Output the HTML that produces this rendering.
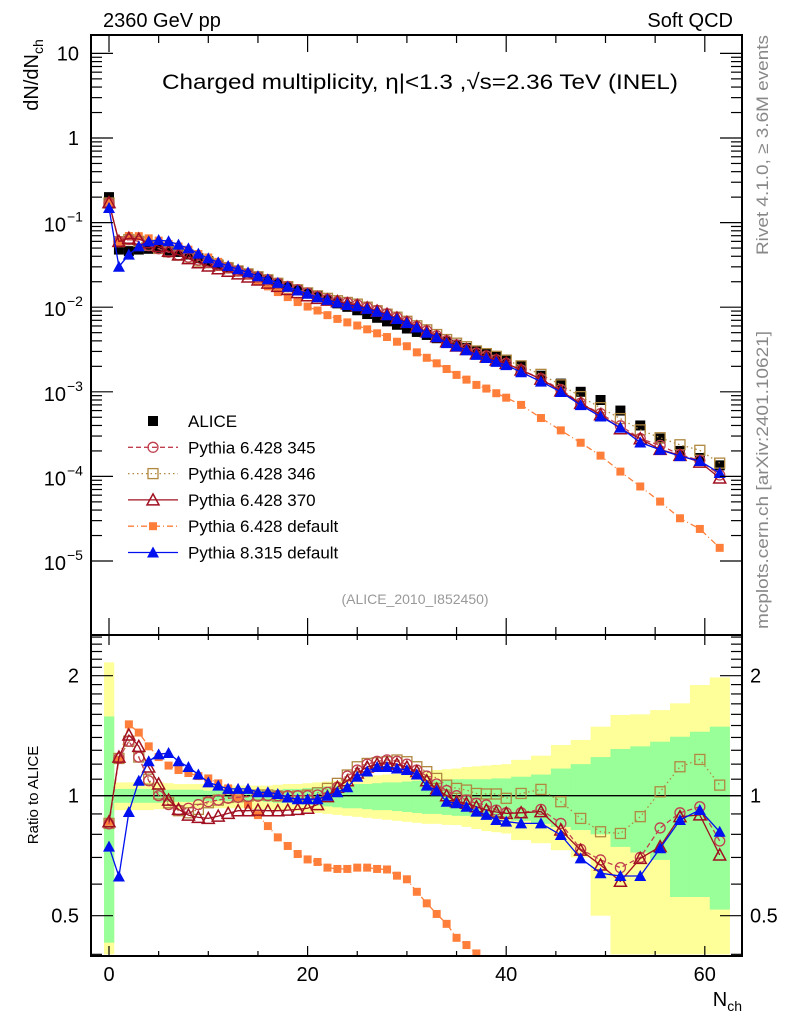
<!DOCTYPE html>
<html><head><meta charset="utf-8"><style>
html,body{margin:0;padding:0;background:#fff;overflow:hidden;width:786px;height:1024px;}
svg{display:block;font-family:"Liberation Sans",sans-serif;}
</style></head><body>
<svg id="chart" width="786" height="1024" viewBox="0 0 786 1024" xmlns="http://www.w3.org/2000/svg">
<defs>
<clipPath id="cm"><rect x="91" y="35" width="651" height="600"/></clipPath>
<clipPath id="cr"><rect x="91" y="635" width="651" height="321"/></clipPath>
</defs>
<g id="bands" clip-path="url(#cr)"></g>
<g id="ratio" clip-path="url(#cr)"></g>
<g id="main" clip-path="url(#cm)"></g>
<g id="axes"></g>
<text x="103" y="27" font-size="20">2360 GeV pp</text>
<text x="733" y="27" font-size="20" text-anchor="end">Soft QCD</text>
<text x="420" y="89" font-size="21.5" text-anchor="middle" textLength="516" lengthAdjust="spacingAndGlyphs">Charged multiplicity, η|&lt;1.3 ,√s=2.36 TeV (INEL)</text>
<text transform="translate(38,75) rotate(-90)" font-size="20" text-anchor="middle">dN/dN<tspan font-size="14" dy="5">ch</tspan></text>
<text transform="translate(38,795) rotate(-90)" font-size="15" text-anchor="middle">Ratio to ALICE</text>
<text x="742" y="1006" font-size="20" text-anchor="end">N<tspan font-size="14" dy="5">ch</tspan></text>
<text transform="translate(768,145) rotate(-90)" font-size="16.5" fill="#888" text-anchor="middle" textLength="220" lengthAdjust="spacingAndGlyphs">Rivet 4.1.0, ≥ 3.6M events</text>
<text transform="translate(768,480) rotate(-90)" font-size="16.5" fill="#888" text-anchor="middle" textLength="298" lengthAdjust="spacingAndGlyphs">mcplots.cern.ch [arXiv:2401.10621]</text>
<text x="415" y="604" font-size="14" fill="#999" text-anchor="middle">(ALICE_2010_I852450)</text>
<g id="legend"></g>
</svg>
<script>
const nch = [0,1,2,3,4,5,6,7,8,9,10,11,12,13,14,15,16,17,18,19,20,21,22,23,24,25,26,27,28,29,30,31,32,33,34,35,36,37,38,39,40,41.5,43.5,45.5,47.5,49.5,51.5,53.5,55.5,57.5,59.5,61.5];
const alice = [0.20,0.048,0.046,0.048,0.049,0.049,0.047,0.045,0.042,0.038,0.035,0.032,0.0295,0.027,0.0248,0.0228,0.021,0.0192,0.0176,0.0161,0.0147,0.0134,0.0122,0.0111,0.0101,0.0092,0.0083,0.0075,0.0068,0.0062,0.0056,0.0051,0.0047,0.0043,0.0039,0.0036,0.0033,0.0030,0.0028,0.0026,0.0024,0.0020,0.00155,0.00125,0.00100,0.00080,0.00060,0.00040,0.00028,0.00020,0.000165,0.000135];
const r345 = [0.85,1.24,1.37,1.25,1.09,1.0,0.95,0.92,0.93,0.95,0.966,0.975,0.985,0.99,0.995,0.997,1.0,1.0,1.0,1.0,1.0,1.004,1.02,1.05,1.12,1.16,1.2,1.22,1.23,1.22,1.2,1.16,1.12,1.07,1.03,1.0,0.975,0.957,0.948,0.92,0.906,0.906,0.924,0.852,0.734,0.69,0.66,0.70,0.83,0.906,0.938,0.77];
const r346 = [0.852,1.24,1.37,1.25,1.10,1.01,0.96,0.917,0.906,0.924,0.96,0.975,0.99,0.994,0.998,1.004,1.004,0.998,0.994,0.998,1.004,1.017,1.043,1.074,1.127,1.182,1.205,1.21,1.217,1.229,1.217,1.182,1.149,1.105,1.063,1.043,1.033,1.013,1.01,1.01,0.985,1.013,1.037,0.966,0.877,0.812,0.804,0.886,1.023,1.182,1.233,1.063];
const r370 = [0.86,1.25,1.42,1.33,1.18,1.07,0.975,0.924,0.894,0.882,0.877,0.889,0.903,0.917,0.917,0.92,0.917,0.917,0.92,0.924,0.93,0.95,0.995,1.05,1.09,1.14,1.18,1.2,1.21,1.2,1.18,1.15,1.09,1.04,1.0,0.966,0.957,0.938,0.92,0.91,0.903,0.906,0.912,0.82,0.73,0.67,0.61,0.696,0.745,0.886,0.895,0.71];
const rDef6 = [0.86,1.23,1.51,1.44,1.33,1.25,1.19,1.16,1.14,1.12,1.105,1.074,1.043,0.985,0.95,0.894,0.839,0.786,0.748,0.714,0.692,0.682,0.66,0.655,0.655,0.66,0.66,0.655,0.653,0.63,0.617,0.574,0.537,0.505,0.477,0.44,0.422,0.402,0.39,0.37,0.355,0.35,0.316,0.28,0.25,0.22,0.19,0.19,0.18,0.16,0.145,0.106];
const r8 = [0.745,0.627,0.91,1.09,1.22,1.27,1.28,1.22,1.18,1.13,1.08,1.06,1.04,1.04,1.04,1.02,1.02,1.01,0.99,0.98,0.98,0.98,1.0,1.02,1.05,1.116,1.15,1.18,1.18,1.17,1.16,1.13,1.06,1.03,0.966,0.957,0.938,0.912,0.895,0.869,0.861,0.852,0.852,0.797,0.696,0.639,0.629,0.629,0.738,0.869,0.921,0.812];
const yellowHi = [2.16,1.08,1.08,1.08,1.08,1.08,1.075,1.07,1.07,1.07,1.07,1.065,1.06,1.06,1.06,1.06,1.06,1.065,1.07,1.07,1.075,1.08,1.085,1.09,1.1,1.11,1.12,1.125,1.13,1.135,1.14,1.15,1.155,1.16,1.165,1.17,1.18,1.185,1.19,1.195,1.2,1.23,1.26,1.34,1.38,1.49,1.594,1.6,1.64,1.705,1.895,1.98];
const yellowLo = [0.40,0.92,0.92,0.92,0.92,0.925,0.925,0.925,0.93,0.93,0.93,0.93,0.93,0.93,0.93,0.925,0.925,0.92,0.92,0.915,0.91,0.905,0.9,0.895,0.89,0.885,0.88,0.875,0.87,0.865,0.86,0.855,0.85,0.85,0.845,0.844,0.835,0.825,0.815,0.81,0.804,0.774,0.76,0.73,0.70,0.50,0.40,0.40,0.40,0.40,0.40,0.40];
const greenHi = [1.58,1.04,1.04,1.04,1.04,1.04,1.035,1.035,1.035,1.035,1.03,1.03,1.03,1.03,1.03,1.03,1.03,1.035,1.04,1.04,1.045,1.05,1.055,1.06,1.065,1.07,1.07,1.075,1.08,1.08,1.085,1.09,1.09,1.095,1.095,1.1,1.1,1.1,1.1,1.105,1.105,1.116,1.13,1.17,1.2,1.25,1.31,1.33,1.366,1.406,1.447,1.49];
const greenLo = [0.428,0.96,0.96,0.96,0.96,0.96,0.965,0.965,0.965,0.97,0.97,0.97,0.97,0.97,0.97,0.97,0.965,0.96,0.96,0.955,0.95,0.945,0.94,0.935,0.93,0.93,0.925,0.92,0.92,0.915,0.91,0.905,0.9,0.9,0.895,0.89,0.89,0.885,0.88,0.88,0.875,0.865,0.85,0.835,0.82,0.80,0.744,0.72,0.69,0.557,0.557,0.518];
const xTicksMajor = [0,20,40,60];
const mainDecades = [-5,-4,-3,-2,-1,0,1];
const ratioLabels = [0.5,1,2];

const NS="http://www.w3.org/2000/svg";
const X0=109, XS=9.93;
const RMIN=0.397;
function xs(n){return X0+XS*n;}
function ym(v){return 561-84.6*(Math.log10(v)+5);}
function yr(r){return 795.7-398.6*Math.log10(r);}
function mk(tag,attrs,parent){const e=document.createElementNS(NS,tag);for(const k in attrs)e.setAttribute(k,attrs[k]);parent.appendChild(e);return e;}
function binLo(i){return nch[i]<=40?nch[i]-0.5:nch[i]-1;}
function binHi(i){return nch[i]<=40?nch[i]+0.5:nch[i]+1;}

const gb=document.getElementById('bands');
for(let i=0;i<nch.length;i++){
  const x1=xs(binLo(i)), x2=xs(binHi(i));
  let r=mk('rect',{x:x1,y:yr(yellowHi[i]),width:x2-x1+0.3,height:yr(yellowLo[i])-yr(yellowHi[i]),fill:'#ffff99'},gb);
  
  
}
for(let i=0;i<nch.length;i++){
  const x1=xs(binLo(i)), x2=xs(binHi(i));
  let r=mk('rect',{x:x1,y:yr(greenHi[i]),width:x2-x1+0.3,height:yr(greenLo[i])-yr(greenHi[i]),fill:'#99ff99'},gb);
  
  
}
let one=mk('line',{x1:91,x2:742,y1:yr(1),y2:yr(1),stroke:'#000','stroke-width':1.3},gb);



function marker(g,type,x,y,color,name){
  let e;
  if(type==='sq') e=mk('rect',{x:x-5,y:y-5,width:10,height:10,fill:color},g);
  else if(type==='fsq') e=mk('rect',{x:x-4,y:y-4,width:8,height:8,fill:color},g);
  else if(type==='osq') e=mk('rect',{x:x-5,y:y-5,width:10,height:10,fill:'none',stroke:color,'stroke-width':1.3},g);
  else if(type==='oc') e=mk('circle',{cx:x,cy:y,r:5,fill:'none',stroke:color,'stroke-width':1.3},g);
  else if(type==='ot') e=mk('path',{d:`M${x},${y-6}L${x+6},${y+5}L${x-6},${y+5}Z`,fill:'none',stroke:color,'stroke-width':1.5},g);
  else if(type==='ft') e=mk('path',{d:`M${x},${y-6}L${x+6},${y+5}L${x-6},${y+5}Z`,fill:color},g);
  
  
}
const series=[
 {name:'pythia6-default',vals:rDef6,color:'#ff7f3a',type:'fsq',dash:'6,3,1,3'},
 {name:'pythia6-346',vals:r346,color:'#b08840',type:'osq',dash:'1.5,3'},
 {name:'pythia6-345',vals:r345,color:'#c04050',type:'oc',dash:'5,3'},
 {name:'pythia6-370',vals:r370,color:'#a01020',type:'ot',dash:''},
 {name:'pythia8-default',vals:r8,color:'#0010ee',type:'ft',dash:''}
];
const gr=document.getElementById('ratio'), gm=document.getElementById('main');
for(let i=0;i<nch.length;i++){ marker(gm,'sq',xs(nch[i]),ym(alice[i]),'#000','alice-point'); }
for(const s of series){
  let dR='',dM='',started=false,stop=false;
  for(let i=0;i<nch.length;i++){
    if(!stop && s.vals[i]>0.36){
      dR+=(started?'L':'M')+xs(nch[i]).toFixed(1)+','+yr(s.vals[i]).toFixed(1);
      started=true;
    } else if(started) stop=true;
    dM+=(i?'L':'M')+xs(nch[i]).toFixed(1)+','+ym(alice[i]*s.vals[i]).toFixed(1);
  }
  let l1=mk('path',{d:dR,fill:'none',stroke:s.color,'stroke-width':1.3,'stroke-dasharray':s.dash},gr);
  
  
  let l2=mk('path',{d:dM,fill:'none',stroke:s.color,'stroke-width':1.3,'stroke-dasharray':s.dash},gm);
  
  
  for(let i=0;i<nch.length;i++){
    if(s.vals[i]>=RMIN) marker(gr,s.type,xs(nch[i]),yr(s.vals[i]),s.color,s.name+'-ratio-point');
    marker(gm,s.type,xs(nch[i]),ym(alice[i]*s.vals[i]),s.color,s.name+'-point');
  }
}
const ga=document.getElementById('axes');
function ln(x1,y1,x2,y2,name,w){let e=mk('line',{x1,y1,x2,y2,stroke:'#000','stroke-width':w||1.2},ga);return e;}
function tx(x,y,s,anchor,size,name){let e=mk('text',{x,y,'font-size':size||20,'text-anchor':anchor||'middle'},ga);e.textContent=s;return e;}
let fr1=mk('rect',{x:91,y:35,width:651,height:600,fill:'none',stroke:'#000','stroke-width':2},ga);


let fr2=mk('rect',{x:91,y:635,width:651,height:321,fill:'none',stroke:'#000','stroke-width':2},ga);


for(let n=0;n<=60;n+=5){
  const maj=xTicksMajor.indexOf(n)>=0, x=xs(n);
  ln(x,35,x,35+(maj?17:8),'x-tick');
  ln(x,635,x,635-(maj?17:8),'x-tick');
  ln(x,635,x,635+(maj?10:5),'x-tick');
  ln(x,956,x,956-(maj?10:5),'x-tick');
}
for(const n of xTicksMajor) tx(xs(n),981,String(n),'middle',20,'x-tick-label');
for(const d of mainDecades){
  for(let k=1;k<10;k++){
    const y=ym(k*Math.pow(10,d));
    if(y<35||y>635)continue;
    const L=k===1?22:11;
    ln(91,y,91+L,y,'y-tick');ln(742,y,742-L,y,'y-tick');
  }
  const y=ym(Math.pow(10,d));
  if(d===1) tx(79,y+7,'10','end',20,'y-tick-label');
  else if(d===0) tx(79,y+7,'1','end',20,'y-tick-label');
  else {
    tx(66,y+9,'10','end',20,'y-tick-label');
    let sp=mk('text',{x:67,y:y-1,'font-size':14},ga);sp.textContent='−'+(-d);
    
    
  }
}
const rt=[0.4,0.5,0.6,0.7,0.8,0.9,1,1.1,1.2,1.3,1.4,1.5,1.6,1.7,1.8,1.9,2,2.1,2.2,2.3,2.4,2.5];
for(const r of rt){
  const y=yr(r); if(y<636||y>955)continue;
  const L=ratioLabels.indexOf(r)>=0?22:11;
  ln(91,y,91+L,y,'ratio-y-tick');ln(742,y,742-L,y,'ratio-y-tick');
}
for(const r of ratioLabels){
  const s=String(r);
  tx(79,yr(r)+7,s,'end',20,'ratio-y-tick-label');
  tx(750,yr(r)+7,s,'start',20,'ratio-y-tick-label-right');
}
const gl=document.getElementById('legend');
const leg=[
 {label:'ALICE',type:'sq',color:'#000',dash:null},
 {label:'Pythia 6.428 345',type:'oc',color:'#c04050',dash:'5,3'},
 {label:'Pythia 6.428 346',type:'osq',color:'#b08840',dash:'1.5,3'},
 {label:'Pythia 6.428 370',type:'ot',color:'#a01020',dash:''},
 {label:'Pythia 6.428 default',type:'fsq',color:'#ff7f3a',dash:'6,3,1,3'},
 {label:'Pythia 8.315 default',type:'ft',color:'#0010ee',dash:''}
];
leg.forEach((e,i)=>{
  const y=421+i*26.3;
  const g=mk('g',{},gl);
  
  
  if(e.dash!==null){let l=mk('line',{x1:128,x2:178,y1:y,y2:y,stroke:e.color,'stroke-width':1.3,'stroke-dasharray':e.dash},g);
    
    }
  marker(g,e.type,153,y,e.color,'legend-marker');
  let t=mk('text',{x:188,y:y+6,'font-size':17},g);t.textContent=e.label;
  
  
});
</script>
</body></html>
